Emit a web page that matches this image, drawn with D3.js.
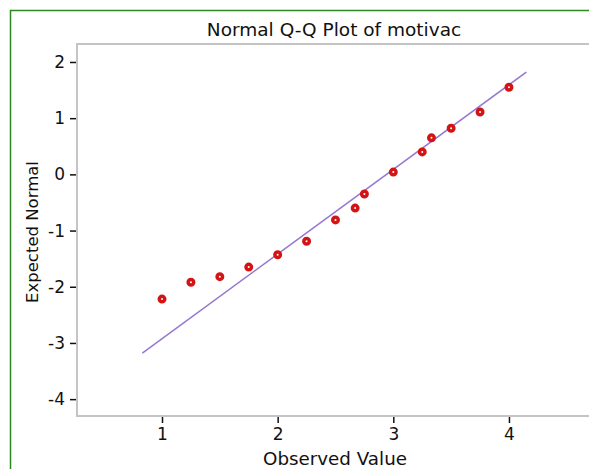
<!DOCTYPE html>
<html>
<head>
<meta charset="utf-8">
<script src="https://cdn.jsdelivr.net/npm/d3@7"></script>
<style>
  body { margin: 0; background: #fff; overflow: hidden; }
  svg { display: block; }
  text { font-family: "DejaVu Sans", Verdana, sans-serif; fill: #111; }
</style>
</head>
<body>
<div id="qq_plot"></div>
<script>
// observed values and expected normal values
var observed = [1, 1.25, 1.5, 1.75, 2, 2.25, 2.5, 2.67, 2.75, 3, 3.25, 3.33, 3.5, 3.75, 4];
var expected = [-2.22, -1.92, -1.82, -1.65, -1.43, -1.19, -0.81, -0.60, -0.35, 0.04, 0.40, 0.65, 0.82, 1.11, 1.55];

// reference line end points
var lineX = [0.83, 4.15];
var lineY = [-3.18, 1.82];

var xTicks = [1, 2, 3, 4];
var yTicks = [2, 1, 0, -1, -2, -3, -4];

var chartTitle = "Normal Q-Q Plot of motivac";
var xTitle = "Observed Value";
var yTitle = "Expected Normal";

var W = 589, H = 469;
var plotLeft = 77, plotTop = 44, plotBottom = 416, plotRight = 589;

var svg = d3.select("#qq_plot")
  .append("svg")
    .attr("width", W)
    .attr("height", H);

// outer green frame (only the left and top sides are in view)
svg.append("path")
  .attr("d", "M10.5," + H + "V10.5H" + W)
  .attr("fill", "none")
  .attr("stroke", "#2a8a1e")
  .attr("stroke-width", 1.5);

var x = d3.scaleLinear()
  .domain([0.265, 4.692])
  .range([plotLeft, plotRight]);

var y = d3.scaleLinear()
  .domain([-4.30, 2.32])
  .range([plotBottom, plotTop]);

// plot frame: left, top and bottom sides
svg.append("path")
  .attr("d", "M" + plotRight + "," + plotTop + "H" + plotLeft + "V" + plotBottom + "H" + plotRight)
  .attr("fill", "none")
  .attr("stroke", "#c4c4c4")
  .attr("stroke-width", 2);

// plain hyphen labels, like the original
function fmt(d) { return String(d); }

// X axis
var xAxis = svg.append("g")
  .attr("transform", "translate(0," + (plotBottom + 1) + ")")
  .call(d3.axisBottom(x).tickValues(xTicks).tickSize(6).tickPadding(5).tickFormat(fmt));
xAxis.select(".domain").remove();
xAxis.selectAll(".tick line").attr("stroke", "#111").attr("stroke-width", 1.5);
xAxis.selectAll(".tick text").style("font-size", "17px").style("font-family", "DejaVu Sans").attr("fill", "#111");

// Y axis
var yAxis = svg.append("g")
  .attr("transform", "translate(" + (plotLeft - 1) + ",0)")
  .call(d3.axisLeft(y).tickValues(yTicks).tickSize(6).tickPadding(5).tickFormat(fmt));
yAxis.select(".domain").remove();
yAxis.selectAll(".tick line").attr("stroke", "#111").attr("stroke-width", 1.5);
yAxis.selectAll(".tick text").style("font-size", "17px").style("font-family", "DejaVu Sans").attr("fill", "#111");

// reference line
svg.append("path")
  .datum(d3.zip(lineX, lineY))
  .attr("fill", "none")
  .attr("stroke", "#9478d0")
  .attr("stroke-width", 1.5)
  .attr("d", d3.line()
    .x(function(d) { return x(d[0]); })
    .y(function(d) { return y(d[1]); }));

// points
svg.append("g")
  .selectAll("circle")
  .data(d3.zip(observed, expected))
  .enter()
  .append("circle")
    .attr("cx", function(d) { return x(d[0]); })
    .attr("cy", function(d) { return y(d[1]); })
    .attr("r", 2.75)
    .attr("fill", "#fff")
    .attr("stroke", "#d41414")
    .attr("stroke-width", 3.5);

// titles
svg.append("text")
  .attr("x", 334).attr("y", 36)
  .attr("text-anchor", "middle")
  .style("font-size", "18.5px")
  .text(chartTitle);

svg.append("text")
  .attr("x", 335).attr("y", 465)
  .attr("text-anchor", "middle")
  .style("font-size", "18.3px")
  .text(xTitle);

svg.append("text")
  .attr("transform", "translate(38,232) rotate(-90)")
  .attr("text-anchor", "middle")
  .style("font-size", "16.5px")
  .text(yTitle);
</script>
</body>
</html>
